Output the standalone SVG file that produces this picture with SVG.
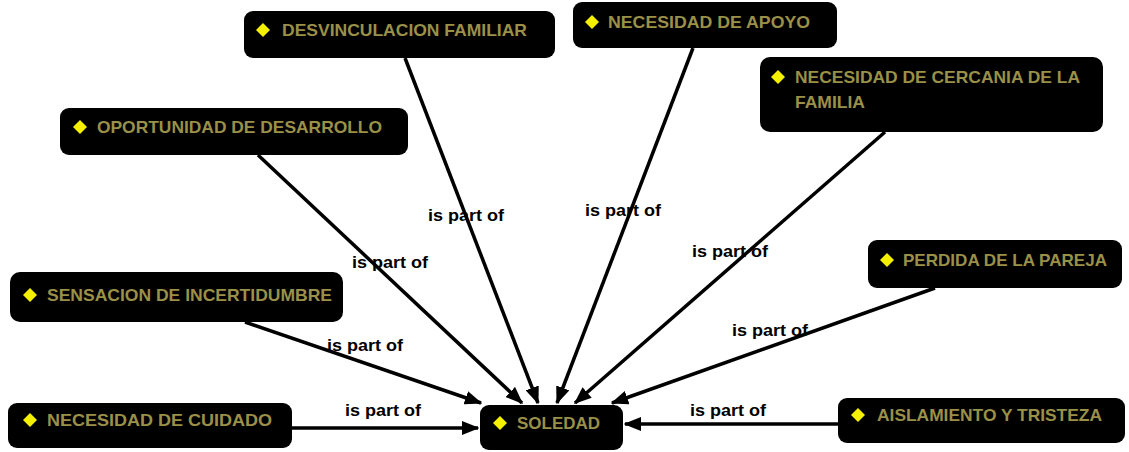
<svg xmlns="http://www.w3.org/2000/svg" width="1129" height="452" viewBox="0 0 1129 452">
<style>
.box{fill:#000;}
.dia{fill:#f5f000;}
.t{font-family:"Liberation Sans",Arial,sans-serif;font-weight:bold;font-size:17px;fill:#9a9048;}
.edge{stroke:#000;stroke-width:3.5;fill:none;marker-end:url(#ah);}
.lbl{font-family:"Liberation Sans",Arial,sans-serif;font-weight:bold;font-size:16px;fill:#000;}
</style>
<defs>
<marker id="ah" markerWidth="5" markerHeight="4" refX="4.6" refY="2" orient="auto" markerUnits="strokeWidth">
<path d="M0,0 L5,2 L0,4 Z" fill="#000"/>
</marker>
</defs>
<rect width="1129" height="452" fill="#fff"/>
<g id="connectors">
<line class="edge" x1="245" y1="322" x2="481" y2="403"/>
<line class="edge" x1="258" y1="155" x2="522" y2="403"/>
<line class="edge" x1="405" y1="58" x2="538" y2="403"/>
<line class="edge" x1="693" y1="48" x2="557" y2="403"/>
<line class="edge" x1="885" y1="132" x2="575" y2="403"/>
<line class="edge" x1="935" y1="288" x2="612" y2="403"/>
<line class="edge" x1="292" y1="428" x2="478" y2="428"/>
<line class="edge" x1="838" y1="424" x2="625" y2="424"/>
<text class="lbl" x="365" y="351" text-anchor="middle" textLength="76" lengthAdjust="spacingAndGlyphs">is part of</text>
<text class="lbl" x="390" y="268" text-anchor="middle" textLength="76" lengthAdjust="spacingAndGlyphs">is part of</text>
<text class="lbl" x="466" y="221" text-anchor="middle" textLength="76" lengthAdjust="spacingAndGlyphs">is part of</text>
<text class="lbl" x="623" y="216" text-anchor="middle" textLength="76" lengthAdjust="spacingAndGlyphs">is part of</text>
<text class="lbl" x="730" y="257" text-anchor="middle" textLength="76" lengthAdjust="spacingAndGlyphs">is part of</text>
<text class="lbl" x="770" y="336" text-anchor="middle" textLength="76" lengthAdjust="spacingAndGlyphs">is part of</text>
<text class="lbl" x="383" y="416" text-anchor="middle" textLength="76" lengthAdjust="spacingAndGlyphs">is part of</text>
<text class="lbl" x="728" y="416" text-anchor="middle" textLength="76" lengthAdjust="spacingAndGlyphs">is part of</text>
</g>
<g id="n-desvinculacion">
<rect class="box" x="244" y="11" width="311" height="47" rx="9"/>
<path class="dia" d="M263,23 L270,30 L263,37 L256,30 Z"/>
<text class="t" x="282" y="36" textLength="245" lengthAdjust="spacingAndGlyphs">DESVINCULACION FAMILIAR</text>
</g>
<g id="n-apoyo">
<rect class="box" x="573" y="2" width="264" height="46" rx="9"/>
<path class="dia" d="M592,15 L599,22 L592,29 L585,22 Z"/>
<text class="t" x="608" y="28" textLength="202" lengthAdjust="spacingAndGlyphs">NECESIDAD DE APOYO</text>
</g>
<g id="n-cercania">
<rect class="box" x="760" y="57" width="343" height="75" rx="10"/>
<path class="dia" d="M778,70 L785,77 L778,84 L771,77 Z"/>
<text class="t" x="795" y="83" textLength="285" lengthAdjust="spacingAndGlyphs">NECESIDAD DE CERCANIA DE LA</text>
<text class="t" x="795" y="108" textLength="70" lengthAdjust="spacingAndGlyphs">FAMILIA</text>
</g>
<g id="n-oportunidad">
<rect class="box" x="60" y="108" width="348" height="47" rx="9"/>
<path class="dia" d="M80,120 L87,127 L80,134 L73,127 Z"/>
<text class="t" x="97" y="133" textLength="285" lengthAdjust="spacingAndGlyphs">OPORTUNIDAD DE DESARROLLO</text>
</g>
<g id="n-sensacion">
<rect class="box" x="10" y="272" width="333" height="50" rx="10"/>
<path class="dia" d="M30,288 L37,295 L30,302 L23,295 Z"/>
<text class="t" x="47" y="301" textLength="285" lengthAdjust="spacingAndGlyphs">SENSACION DE INCERTIDUMBRE</text>
</g>
<g id="n-cuidado">
<rect class="box" x="8" y="403" width="284" height="45" rx="9"/>
<path class="dia" d="M30,413 L37,420 L30,427 L23,420 Z"/>
<text class="t" x="47" y="426" textLength="225" lengthAdjust="spacingAndGlyphs">NECESIDAD DE CUIDADO</text>
</g>
<g id="n-soledad">
<rect class="box" x="480" y="405" width="143" height="45" rx="9"/>
<path class="dia" d="M500,416 L507,423 L500,430 L493,423 Z"/>
<text class="t" x="517" y="429" textLength="83" lengthAdjust="spacingAndGlyphs">SOLEDAD</text>
</g>
<g id="n-aislamiento">
<rect class="box" x="838" y="398" width="287" height="45" rx="9"/>
<path class="dia" d="M858,408 L865,415 L858,422 L851,415 Z"/>
<text class="t" x="877" y="421" textLength="225" lengthAdjust="spacingAndGlyphs">AISLAMIENTO Y TRISTEZA</text>
</g>
<g id="n-perdida">
<rect class="box" x="868" y="240" width="254" height="48" rx="9"/>
<path class="dia" d="M887,253 L894,260 L887,267 L880,260 Z"/>
<text class="t" x="903" y="266" textLength="204" lengthAdjust="spacingAndGlyphs">PERDIDA DE LA PAREJA</text>
</g>
</svg>
